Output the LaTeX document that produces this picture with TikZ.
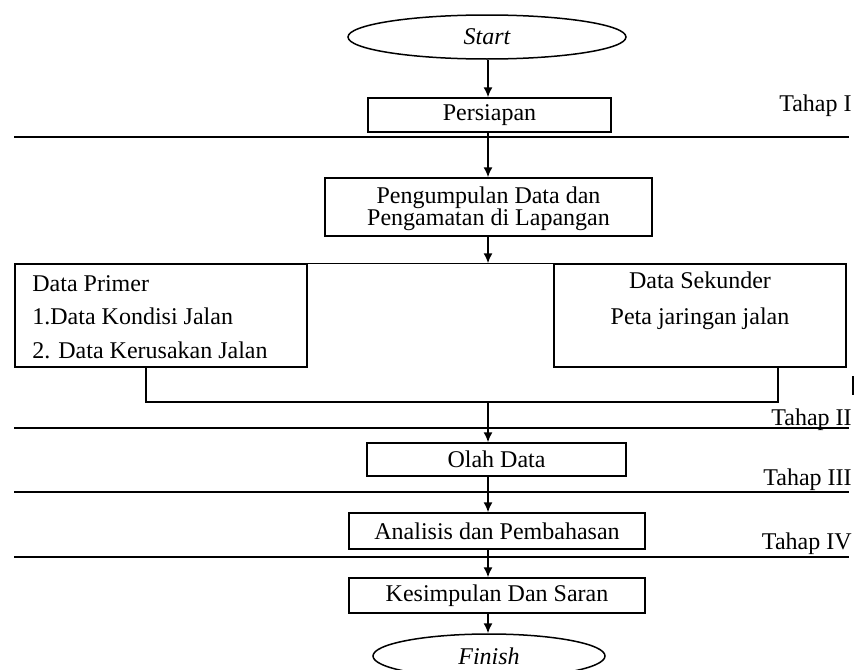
\documentclass[tikz,border=0pt]{standalone}
\usepackage{fontspec}
\setmainfont{Liberation Serif}
\usetikzlibrary{arrows.meta,shapes.geometric,calc}
\tikzset{
  base/.style={draw=black, line width=0.75pt, inner sep=0pt, font=\fontsize{12}{14}\selectfont, text=black},
  pbox/.style={base, rectangle, align=center},
  term/.style={base, ellipse, font=\fontsize{12}{14}\selectfont\itshape},
  arr/.style={-{Latex[length=5pt,width=4.5pt]}, line width=0.75pt},
  conn/.style={line width=0.75pt},
  sep/.style={line width=0.75pt},
  txt/.style={inner sep=0pt, text=black},
  tahap/.style={anchor=east, inner sep=0pt, font=\fontsize{12}{14}\selectfont}
}
\begin{document}
\begin{tikzpicture}[x=0.5pt, y=-0.5pt]
\clip (0,0) rectangle (856,669);
\fill[white] (0,0) rectangle (856,669);

% nodes
\node[term, minimum width=139pt, minimum height=22pt] (start) at (487,37) {Start};
\node[pbox, minimum width=121.5pt, minimum height=17pt] (persiapan) at (489.5,115) {Persiapan};
\node[pbox, minimum width=163.5pt, minimum height=29pt] (peng) at (488.5,207) {};
\node[txt, align=center, font=\fontsize{12}{11}\selectfont] (pengtxt) at (488.5,209) {Pengumpulan Data dan\\Pengamatan di Lapangan};
\node[pbox, minimum width=146pt, minimum height=51.5pt] (prim) at (161,315.5) {};
\node[txt, anchor=west, align=left, font=\fontsize{12}{16.8}\selectfont] (primtxt) at (32,317) {Data Primer\\1.Data Kondisi Jalan\\2. Data Kerusakan Jalan};
\node[pbox, minimum width=146pt, minimum height=51.5pt] (sek) at (700,315.5) {};
\node[txt, align=center, font=\fontsize{12}{18}\selectfont] (sektxt) at (700,301) {Data Sekunder\\Peta jaringan jalan};
\node[pbox, minimum width=129.5pt, minimum height=16.5pt] (olah) at (496.5,459.5) {Olah Data};
\node[pbox, minimum width=148pt, minimum height=18pt] (anal) at (497,531) {Analisis dan Pembahasan};
\node[pbox, minimum width=148pt, minimum height=17.5pt] (kes) at (497,595.5) {Kesimpulan Dan Saran};
\node[term, minimum width=116pt, minimum height=22pt] (finish) at (489,656) {Finish};

% stage labels
\node[tahap] (t1) at (852,106) {Tahap I};
\node[tahap] (t2) at (852,420) {Tahap II};
\node[tahap] (t3) at (852,480) {Tahap III};
\node[tahap] (t4) at (852,544) {Tahap IV};

% stage separator lines
\draw[sep] (14,137) -- (849,137);
\draw[sep] (14,428) -- (849,428);
\draw[sep] (14,492) -- (849,492);
\draw[sep] (14,557) -- (849,557);

% connectors
\coordinate (cx) at (488,0);
\draw[arr] (cx |- start.south) -- (cx |- persiapan.north);
\draw[arr] (cx |- persiapan.south) -- (cx |- peng.north);
\draw[conn] (prim.north east) -- (sek.north west);
\draw[arr] (cx |- peng.south) -- (cx |- prim.north);
\coordinate (jl) at (146,402);
\coordinate (jr) at (778,402);
\coordinate (jm) at (488,402);
\draw[conn] (jl |- prim.south) -- (jl) -- (jr) -- (jr |- sek.south);
\draw[arr] (jm) -- (jm |- olah.north);
\draw[arr] (cx |- olah.south) -- (cx |- anal.north);
\draw[arr] (cx |- anal.south) -- (cx |- kes.north);
\draw[arr] (cx |- kes.south) -- (cx |- finish.north);

% small stray mark at right edge
\draw[line width=1pt] (853,376) -- (853,395);
\end{tikzpicture}
\end{document}
